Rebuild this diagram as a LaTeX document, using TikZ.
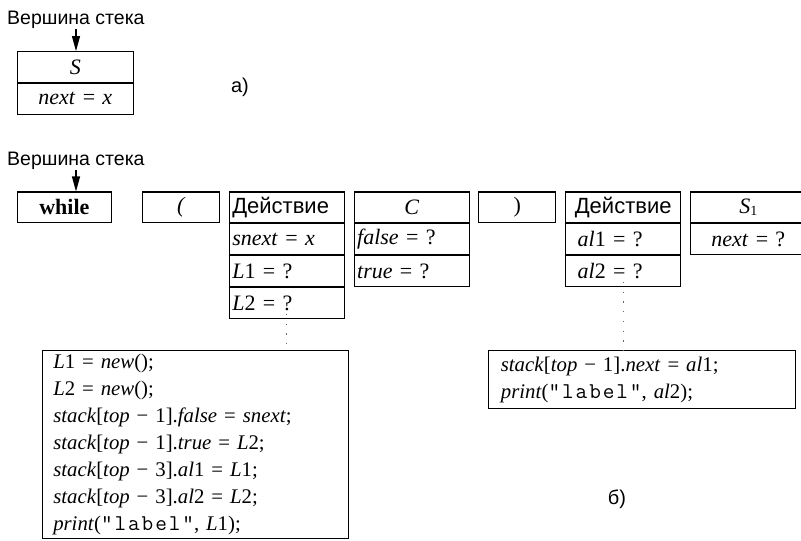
\documentclass[tikz,border=0pt]{standalone}
\usepackage{fontspec}
\setmainfont{Liberation Serif}
\setsansfont{Liberation Sans}
\newfontfamily\courfont[LetterSpace=8.5]{Latin Modern Mono}
\usetikzlibrary{arrows.meta}
\newcommand{\mi}[1]{\textit{#1}}
\newcommand{\lbltxt}{{\courfont\fontsize{22.6}{27}\selectfont "label"}}
\begin{document}
\begin{tikzpicture}[x=1pt,y=-1pt,
  cell/.style={draw, line width=1.1pt, inner ysep=0pt, minimum height=30.75pt,
    font=\fontsize{22}{24}\selectfont},
  ccell/.style={cell, inner xsep=0pt, text width=#1, align=center},
  lcell/.style 2 args={cell, inner xsep=#2, text width=#1-2*#2, align=left},
  lab/.style={font=\sffamily\fontsize{19.5}{22}\selectfont, inner sep=0pt},
  code/.style={draw, line width=1.1pt, inner ysep=0pt, align=left,
    font=\fontsize{20.8}{27}\selectfont},
  ptr/.style={line width=1.1pt, -{Triangle[length=15pt,width=8pt]}},
  dots/.style={line width=1.3pt, draw=black!60, dash pattern=on 1.3pt off 8.4pt}
]
\useasboundingbox (0,0) rectangle (801,541);

% ---------- a) ----------
\node[lab, anchor=base west] (top1) at (7,24) {Вершина стека};
\node[ccell=116pt] (a1) at (75.3,67) {\mi{S}};
\node[ccell=116pt, anchor=north] (a2) at (a1.south) {\mi{next} = \mi{x}};
\coordinate (t1) at (76,29);
\draw[ptr] (t1) -- (t1 |- a1.north);
\node[lab, font=\sffamily\fontsize{20}{22}\selectfont] (la) at (240,87) {а)};

% ---------- b) ----------
\node[lab, anchor=base west] (top2) at (7,165) {Вершина стека};
\coordinate (t2) at (76,170);

\node[ccell=94pt] (w) at (64.4,207.4) {\textbf{while}};
\draw[ptr] (t2) -- (t2 |- w.north);
\node[ccell=77pt] (lp) at (181.4,207.4) {\mi{(}\hspace*{10pt}};

\node[lcell={115pt}{3pt}] (d1a) at (286.8,207.4) {\sffamily Действие};
\node[lcell={115pt}{3pt}, anchor=north] (d1b) at (d1a.south) {\mi{snext} = \mi{x}};
\node[lcell={115pt}{3pt}, anchor=north] (d1c) at (d1b.south) {\mi{L}1 = ?};
\node[lcell={115pt}{3pt}, anchor=north] (d1d) at (d1c.south) {\mi{L}2 = ?};

\node[ccell=115pt] (c1) at (411.7,207.4) {\mi{C}};
\node[lcell={115pt}{3pt}, anchor=north] (c2) at (c1.south) {\mi{false} = ?};
\node[lcell={115pt}{3pt}, anchor=north] (c3) at (c2.south) {\mi{true} = ?};

\node[ccell=77pt] (rp) at (517.3,207.4) {)};

\node[ccell=115pt] (d2a) at (623.2,207.4) {\sffamily Действие};
\node[lcell={115pt}{12pt}, anchor=north] (d2b) at (d2a.south) {\mi{al}1 = ?};
\node[lcell={115pt}{12pt}, anchor=north] (d2c) at (d2b.south) {\mi{al}2 = ?};

\node[ccell=116pt] (s1) at (748.3,207.4) {\mi{S}\raisebox{-0.15ex}{\fontsize{14}{14}\selectfont 1}};
\node[ccell=116pt, anchor=north] (s2) at (s1.south) {\mi{next} = ?};

% code boxes
\node[code, anchor=north west, inner xsep=11pt, text width=284.6pt, minimum height=188pt] (k1) at (41.7,350) {%
\mi{L}1 = \mi{new}();\\
\mi{L}2 = \mi{new}();\\
\mi{stack}[\mi{top} − 1].\mi{false} = \mi{snext};\\
\mi{stack}[\mi{top} − 1].\mi{true} = \mi{L}2;\\
\mi{stack}[\mi{top} − 3].\mi{al}1 = \mi{L}1;\\
\mi{stack}[\mi{top} − 3].\mi{al}2 = \mi{L}2;\\
\mi{print}(\lbltxt, \mi{L}1);};

\node[code, anchor=north west, inner xsep=12pt, text width=282.7pt, minimum height=58.3pt] (k2) at (488.3,350) {%
\mi{stack}[\mi{top} − 1].\mi{next} = \mi{al}1;\\
\mi{print}(\lbltxt, \mi{al}2);};

\draw[dots] ([yshift=5pt]d1d.south) -- (d1d.south |- k1.north);
\draw[dots] ([yshift=5pt]d2c.south) -- (d2c.south |- k2.north);

\node[lab, font=\sffamily\fontsize{20}{22}\selectfont] (lb) at (617,499) {б)};
\end{tikzpicture}
\end{document}
